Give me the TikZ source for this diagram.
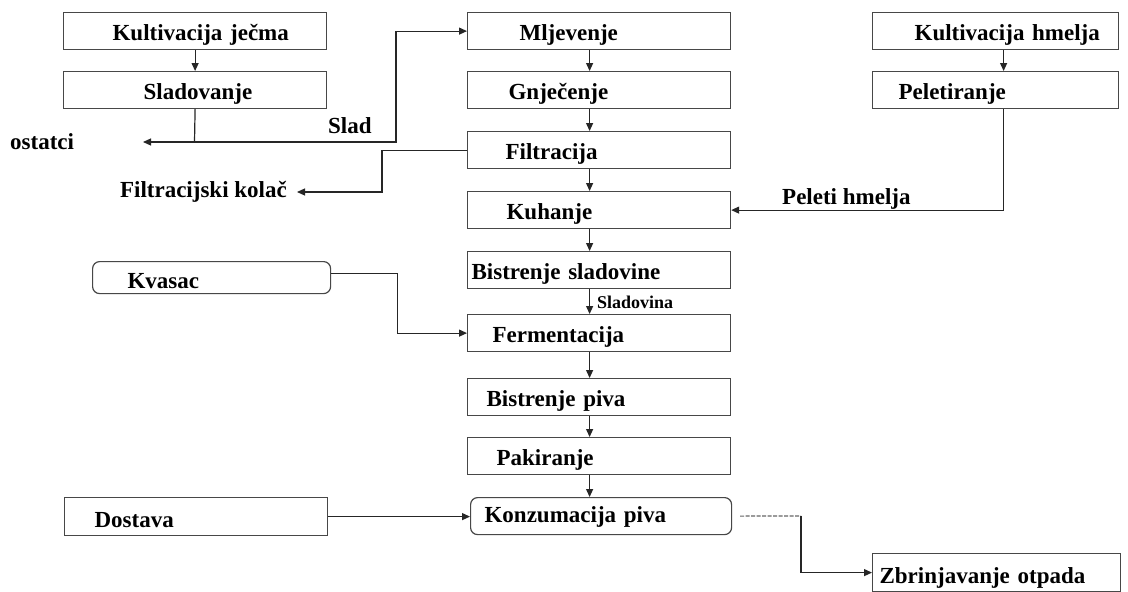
\documentclass[tikz,border=0pt]{standalone}
\usepackage{fontspec}
\setmainfont{Liberation Serif}
\usetikzlibrary{arrows.meta}
\begin{document}
\begin{tikzpicture}[x=1pt,y=-1pt,
  every node/.style={font=\fontsize{23}{27}\selectfont\bfseries},
  box/.style={draw=black!72, line width=1.2pt, minimum height=37pt, inner xsep=0pt, inner ysep=0pt, align=left, anchor=north west, text width=#1, text height=28pt, text depth=9pt},
  box/.default=263pt,
  term/.style={box=#1, rounded corners=7pt},
  arr/.style={draw=black!85, line width=1.2pt, -{Triangle[length=8pt,width=7pt]}},
  ln/.style={draw=black!85, line width=1.2pt},
  dln/.style={draw=black!60, line width=1.2pt, dash pattern=on 4pt off 1.5pt},
  lbl/.style={inner sep=0pt},
  small/.style={inner sep=0pt, font=\fontsize{18}{21}\selectfont\bfseries}]
\useasboundingbox (0,0) rectangle (1128,592);
\fill[white] (0,0) rectangle (1128,592);

% left column
\node[box] (kj) at (63,12) {\hspace*{49pt}Kultivacija ječma};
\node[box] (sla) at (63,71) {\hspace*{80pt}Sladovanje};
\node[term=238pt, minimum height=32pt, text height=27pt, text depth=5pt] (kv) at (92,261) {\hspace*{35pt}Kvasac};
\node[box, minimum height=38pt, text height=30pt, text depth=8pt] (dost) at (64,497) {\hspace*{30pt}Dostava};

% middle column
\node[box] (mlj) at (467,12) {\hspace*{52pt}Mljevenje};
\node[box] (gnj) at (467,71) {\hspace*{41pt}Gnječenje};
\node[box] (filt) at (467,131) {\hspace*{38pt}Filtracija};
\node[box] (kuh) at (467,191) {\hspace*{39pt}Kuhanje};
\node[box] (bsl) at (467,251) {\hspace*{4pt}Bistrenje sladovine};
\node[box] (ferm) at (467,314) {\hspace*{25pt}Fermentacija};
\node[box] (bpiva) at (467,378) {\hspace*{19pt}Bistrenje piva};
\node[box] (pak) at (467,437) {\hspace*{29pt}Pakiranje};
\node[term=261pt, text height=25pt, text depth=12pt] (konz) at (470,497) {\hspace*{14pt}Konzumacija piva};

% right column
\node[box=246pt] (kh) at (872,12) {\hspace*{42pt}Kultivacija hmelja};
\node[box=246pt] (pel) at (872,71) {\hspace*{26pt}Peletiranje};
\node[box=248pt, minimum height=38pt, text height=30pt, text depth=8pt] (zbr) at (872,553) {\hspace*{7pt}Zbrinjavanje otpada};

% free labels
\node[lbl, anchor=base west] (ost) at (10,149) {ostatci};
\node[lbl, anchor=base west] (sladl) at (328,133) {Slad};
\node[lbl, anchor=base east] (kol) at (287,197) {Filtracijski kolač};
\node[lbl, anchor=base west] (phl) at (782,204) {Peleti hmelja};
\node[small, anchor=base west] (sdv) at (597,308) {Sladovina};

% vertical arrows
\draw[arr] (kj.south) -- (sla.north);
\foreach \a/\b in {mlj/gnj, gnj/filt, filt/kuh, kuh/bsl, bsl/ferm, ferm/bpiva, bpiva/pak, pak/konz}
  \draw[arr] ([xshift=-9.5pt]\a.south) -- ([xshift=-9.5pt]\a.south |- \b.north);
\draw[arr] ([xshift=8pt]kh.south) -- ([xshift=8pt]pel.north);

% Slad / ostatci
\coordinate (j) at (194.5,142);
\coordinate (ostE) at (143,142);
\coordinate (sladK) at (396,142);
\draw[ln] (sla.south) -- (j);
\draw[arr] (j) -- (ostE);
\draw[arr] (j) -- (sladK) |- (mlj.west);

% Filtracijski kolac
\coordinate (kolE) at (297,192);
\draw[arr] (filt.west) -- ++(-85,0) |- (kolE);

% Peleti hmelja
\draw[arr] ([xshift=8pt]pel.south) |- (kuh.east);

% Kvasac
\draw[arr] ([yshift=4pt]kv.east) -- ++(66,0) |- (ferm.west);

% Dostava
\draw[arr] (dost.east) -- (dost.east -| konz.west);

% otpad
\coordinate (kz) at (801,516);
\draw[dln] ([xshift=8pt]konz.east) -- (kz);
\draw[arr] (kz) |- (zbr.west);
\end{tikzpicture}
\end{document}
